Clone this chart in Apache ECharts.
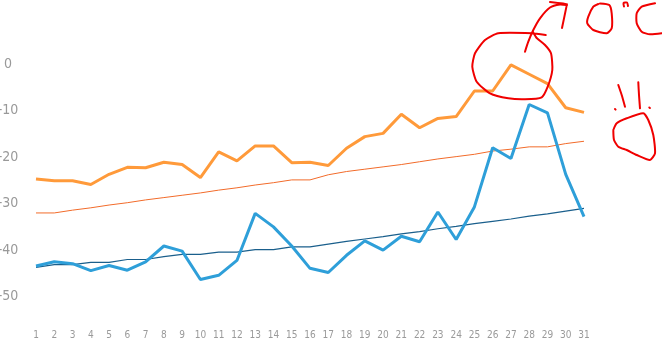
<!DOCTYPE html>
<html><head><meta charset="utf-8">
<script src="https://cdn.jsdelivr.net/npm/echarts@6/dist/echarts.min.js"></script>
<style>html,body{margin:0;padding:0;background:#fff}#c{width:662px;height:360px}</style>
</head><body><div id="c"></div>
<script>
var days = [];
for (var d = 1; d <= 31; d++) days.push(String(d));
var highTemp = [-24.7,-25.1,-25.1,-25.9,-23.7,-22.2,-22.3,-21.1,-21.6,-24.4,-18.9,-20.8,-17.6,-17.6,-21.2,-21.1,-21.8,-18.1,-15.6,-14.9,-10.8,-13.7,-11.7,-11.3,-5.8,-5.8,-0.2,-2.2,-4.2,-9.4,-10.4];
var lowTemp = [-43.4,-42.5,-42.9,-44.4,-43.3,-44.3,-42.5,-39.1,-40.2,-46.3,-45.4,-42.2,-32.1,-35.0,-39.1,-43.9,-44.8,-41.1,-38.0,-40.0,-37.0,-38.2,-31.8,-37.7,-30.7,-18.0,-20.3,-8.7,-10.5,-23.7,-32.8];
var highTrend = [-32.0,-32.0,-31.4,-30.9,-30.3,-29.8,-29.2,-28.7,-28.2,-27.7,-27.1,-26.6,-26.0,-25.5,-24.9,-24.9,-23.8,-23.1,-22.6,-22.1,-21.6,-21.0,-20.4,-19.9,-19.4,-18.7,-18.3,-17.8,-17.8,-17.1,-16.6];
var lowTrend = [-43.7,-43.1,-43.1,-42.6,-42.6,-42.0,-42.0,-41.4,-40.9,-40.9,-40.4,-40.4,-39.9,-39.9,-39.3,-39.3,-38.7,-38.1,-37.6,-37.1,-36.5,-36.0,-35.4,-34.9,-34.3,-33.8,-33.3,-32.7,-32.2,-31.6,-31.0];
var yTicks = [0,-10,-20,-30,-40,-50];

var chart = echarts.init(document.getElementById('c'), null, {renderer:'canvas'});
var red = '#f00000';
function pl(pts, smooth){return {type:'polyline', shape:{points:pts, smooth:smooth||0.2}, style:{stroke:red, lineWidth:2, fill:null, lineCap:'round', lineJoin:'round'}, z:100};}
chart.setOption({
  animation:false,
  grid:{left:36, right:78, top:64, bottom:40, outerBoundsMode:'none', containLabel:false},
  xAxis:{type:'category', data:days, boundaryGap:false,
    axisLine:{show:false}, axisTick:{show:false}, splitLine:{show:false},
    axisLabel:{color:'#9a9a9a', fontSize:10, fontFamily:'DejaVu Sans Condensed', margin:10, interval:0}},
  yAxis:{type:'value', min:-55, max:0, interval:5,
    axisLine:{show:false}, axisTick:{show:false}, splitLine:{show:false},
    axisLabel:{color:'#999', fontSize:14, fontFamily:'DejaVu Sans Condensed', align:'center', margin:28,
      formatter:function(v){return yTicks.indexOf(v) >= 0 ? String(v) : '';}}},
  series:[
    {type:'line', data:highTrend, symbol:'none', lineStyle:{color:'#f26b2a', width:1}, z:2},
    {type:'line', data:lowTrend, symbol:'none', lineStyle:{color:'#1a5f8c', width:1.2}, z:2},
    {type:'line', data:highTemp, symbol:'none', lineStyle:{color:'#ff9a3a', width:3}, z:3},
    {type:'line', data:lowTemp, symbol:'none', lineStyle:{color:'#2e9fd9', width:3}, z:3}
  ],
  graphic:[
    pl([[545.7,35],[531.7,33.3],[498.3,33.3],[485,40],[475,53.3],[472.3,66.7],[476.7,81.7],[490,93.3],[508.3,98.3],[525,99.3],[541.7,97.3],[547.7,86.7],[552.3,70],[551,53.3],[545,45],[536.7,38],[533,32]]),
    pl([[525,51.7],[528.3,41.7],[533.3,30],[540,18.3],[550,7.5],[560,4.5],[566.7,5]]),
    pl([[550,2],[567,4],[562,28]], 0.01),
    pl([[598.3,4],[593.3,6.7],[588.3,16.7],[587.3,23.3],[593.3,30],[606.7,33.3],[611.7,28.3],[611.7,13.3],[609.3,5],[600,3.5]]),
    pl([[624,6.5],[623.5,3],[627,2.5],[628,6]]),
    pl([[655,3.3],[641.7,6.7],[636.7,13.3],[636.7,23.3],[641.7,31.7],[650,34.3],[661.7,33.3]]),
    pl([[618.3,85],[621.7,95],[625,106.7]]),
    pl([[638.3,82.3],[639,95],[640,108.3]]),
    pl([[615,109],[615.6,109.6]]),
    pl([[649.3,107.5],[649.9,108]]),
    pl([[613.3,130],[616.7,123.3],[626.7,118.3],[643.3,113.3],[648.3,120],[653.3,135],[655,153.3],[650,160],[636.7,155],[626.7,150],[618.3,146.7],[614,140],[613.3,130]])
  ]
});
</script></body></html>
